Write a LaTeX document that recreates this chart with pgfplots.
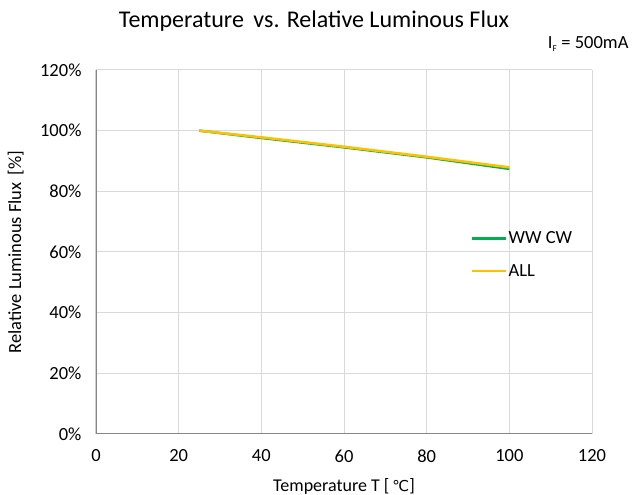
\documentclass[border=0pt]{standalone}
\usepackage{fontspec}
\setmainfont{Carlito}
\newfontfamily\dejavu{DejaVu Sans}
\usepackage{pgfplots}
\pgfplotsset{compat=1.18}

\definecolor{wwcw}{HTML}{00B050}
\definecolor{allc}{HTML}{FFC000}
\definecolor{axgray}{HTML}{868686}
\definecolor{gridgray}{HTML}{D9D9D9}

\begin{document}
\begin{tikzpicture}
\useasboundingbox (0,0) rectangle (633pt,495pt);
\node[font=\fontsize{24}{28}\selectfont] at (314pt,474pt) {Temperature\ \,vs. Relative Luminous Flux};
\node[font=\fontsize{18.5}{22}\selectfont, anchor=east] at (632pt,451pt) {I\textsubscript{\fontsize{9}{10}\selectfont F} = 500mA};
\begin{axis}[
  at={(96pt,61pt)}, anchor=south west,
  width=496pt, height=364pt, scale only axis,
  xmin=0, xmax=120, ymin=0, ymax=120,
  xtick={0,20,...,120}, ytick={0,20,...,120},
  yticklabel={\pgfmathprintnumber{\tick}\%},
  /pgf/number format/assume math mode=true,
  tick label style={font=\fontsize{18.5}{22}\selectfont},
  major tick length=0pt,
  grid=major,
  major grid style={gridgray, line width=1pt},
  axis line style={draw=none},
  xticklabel style={yshift=-12pt},
  yticklabel style={xshift=-11pt},
  xlabel={Temperature T [\,{\dejavu\fontsize{15}{18}\selectfont ℃}]},
  ylabel={Relative Luminous Flux\ \,[\%]},
  xlabel style={font=\fontsize{18}{22}\selectfont, at={(0.5,-0.145)}, anchor=center},
  ylabel style={font=\fontsize{18.5}{22}\selectfont, at={(-0.162,0.5)}, anchor=center},
  legend style={draw=none, fill=none, at={(0.756,0.559)}, anchor=north west,
    font=\fontsize{18.5}{22}\selectfont, row sep=17pt, inner sep=0pt,
    nodes={inner sep=1pt}},
  legend cell align=left,
  legend image code/.code={\draw[#1, line width=2.5pt] (0pt,0pt) -- (34pt,0pt);},
]
\draw[axgray, line width=2pt] (axis cs:0,120) -- (axis cs:0,0) -- (axis cs:120,0);
\addplot[wwcw, line width=2.5pt] coordinates {(25,100) (40,97.6) (60,94.5) (80,91.2) (100,87.4)};
\addlegendentry{WW CW}
\addplot[allc, line width=2.5pt] coordinates {(25,100) (40,97.8) (60,94.7) (80,91.4) (100,87.9)};
\addlegendentry{ALL}
\end{axis}
\end{tikzpicture}
\end{document}
